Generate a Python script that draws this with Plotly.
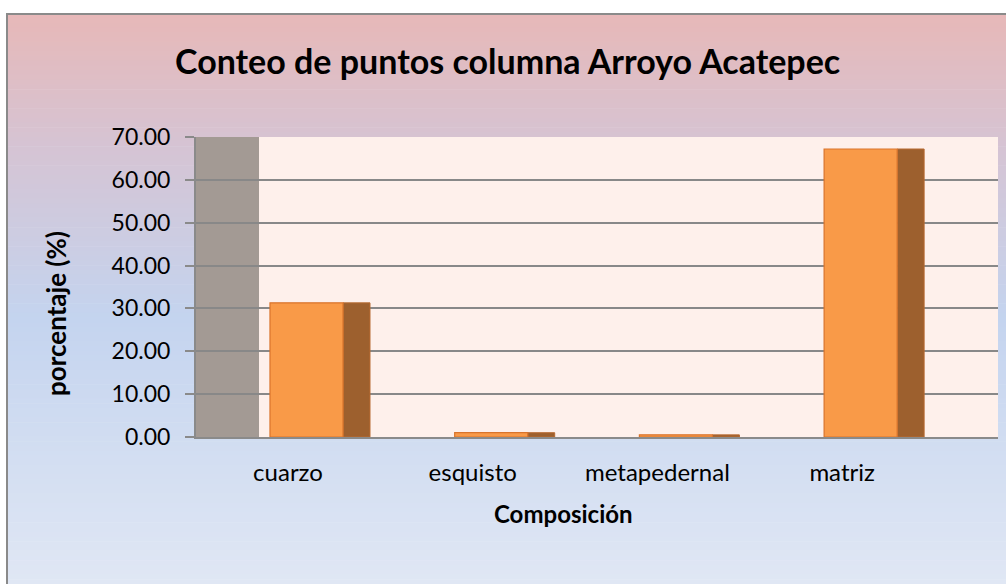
import plotly.graph_objects as go

categories = ["cuarzo", "esquisto", "metapedernal", "matriz"]
values = [31.3, 1.0, 0.5, 67.2]
y_ticks = [0, 10, 20, 30, 40, 50, 60, 70]

W, H = 1006, 584
L, R, T, B = 196, 998, 137, 437

def px(x):
    return (x - L) / (R - L)

def py(y):
    return (B - y) / (B - T)

def hexmix(c1, c2, t):
    a = [int(c1[i:i+2], 16) for i in (1, 3, 5)]
    b = [int(c2[i:i+2], 16) for i in (1, 3, 5)]
    return "#%02x%02x%02x" % tuple(round(a[k] + (b[k] - a[k]) * t) for k in range(3))

stops = [(13, "#e7b8b8"), (150, "#d5c4d4"), (320, "#c4d4ef"), (584, "#e0e7f4")]

def grad(y):
    for (y0, c0), (y1, c1) in zip(stops, stops[1:]):
        if y <= y1:
            return hexmix(c0, c1, (y - y0) / (y1 - y0))
    return stops[-1][1]

shapes = []
n = 120
for i in range(n):
    y0 = 13 + (584 - 13) * i / n
    y1 = 13 + (584 - 13) * (i + 1) / n + 0.6
    shapes.append(dict(type="rect", xref="paper", yref="paper", layer="below",
                       x0=px(6), x1=px(1010), y0=py(y0), y1=py(y1),
                       fillcolor=grad((y0 + y1) / 2), line=dict(width=0)))
# outer border
shapes.append(dict(type="rect", xref="paper", yref="paper", layer="below",
                   x0=px(7), x1=px(1012), y0=py(14), y1=py(590),
                   fillcolor="rgba(0,0,0,0)", line=dict(color="#8a8a8a", width=2)))
# plot area fill
shapes.append(dict(type="rect", xref="paper", yref="paper", layer="below",
                   x0=0, x1=1, y0=0, y1=1, fillcolor="#fef0eb", line=dict(width=0)))
# side wall
shapes.append(dict(type="rect", xref="paper", yref="paper", layer="below",
                   x0=0, x1=px(259), y0=0, y1=1, fillcolor="#a39a94", line=dict(width=0)))

fig = go.Figure()
xs = list(range(len(categories)))
fig.add_trace(go.Bar(x=xs, y=values, offset=0.298, width=0.146,
                     marker=dict(color="#9d602e", line=dict(color="#b86a30", width=1)),
                     hoverinfo="skip", showlegend=False))
fig.add_trace(go.Bar(x=xs, y=values, offset=-0.0975, width=0.3955,
                     marker=dict(color="#f99a48", line=dict(color="#d9742c", width=1.2)),
                     showlegend=False))

font_family = "Lato, 'Open Sans', sans-serif"

fig.update_layout(
    width=W, height=H,
    margin=dict(l=L, r=W - R, t=T, b=H - B, pad=0),
    paper_bgcolor="white", plot_bgcolor="rgba(0,0,0,0)",
    shapes=shapes,
    barmode="overlay",
    font=dict(family=font_family, color="black"),
    xaxis=dict(range=[-0.498, 3.844], tickvals=xs, ticktext=categories,
               showgrid=False, zeroline=False, showline=True, linecolor="#8a8a8a",
               linewidth=2, ticks="", ticklabelstandoff=13,
               tickfont=dict(size=24, family=font_family)),
    yaxis=dict(range=[0, 70], tickvals=y_ticks, tickformat=".2f",
               showgrid=True, gridcolor="#888888", gridwidth=2, zeroline=False,
               showline=True, linecolor="#8a8a8a", linewidth=2,
               ticks="outside", ticklen=9, tickwidth=2, tickcolor="#8a8a8a",
               ticklabelstandoff=10, tickfont=dict(size=23, family=font_family)),
    annotations=[
        dict(text="<b>Conteo de puntos columna Arroyo Acatepec</b>", xref="paper", yref="paper",
             x=px(507), y=py(60), xanchor="center", yanchor="middle", showarrow=False,
             font=dict(size=34, family=font_family)),
        dict(text="<b>porcentaje (%)</b>", xref="paper", yref="paper",
             x=px(56), y=py(314), xanchor="center", yanchor="middle", showarrow=False,
             textangle=-90, font=dict(size=26, family=font_family)),
        dict(text="<b>Composición</b>", xref="paper", yref="paper",
             x=px(563), y=py(513), xanchor="center", yanchor="middle", showarrow=False,
             font=dict(size=24, family=font_family)),
    ],
)

fig.write_html("out.html", config={"displayModeBar": False},
               post_script="document.body.style.margin='0';document.body.style.overflow='hidden';")
